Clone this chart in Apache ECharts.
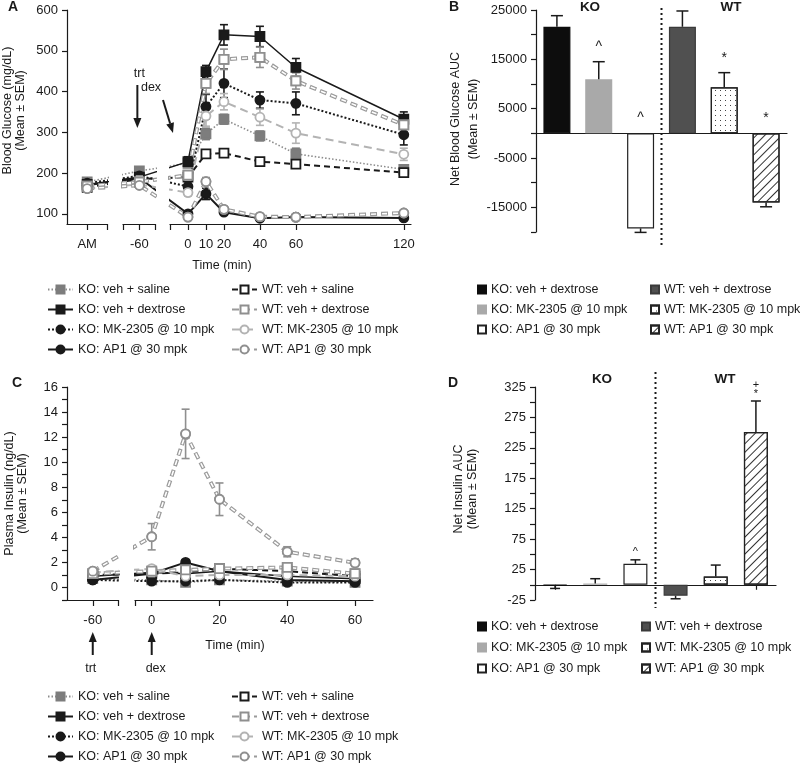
<!DOCTYPE html>
<html>
<head>
<meta charset="UTF-8">
<title>Blood glucose and insulin</title>
<script src="https://cdn.jsdelivr.net/npm/echarts@6/dist/echarts.min.js"></script>
<style>html,body{margin:0;padding:0;background:#fff}</style>
</head>
<body>
<div id="main" style="width:800px;height:768px;"></div>
<script>
// ---------------- data ----------------
var groups = ['KO: veh + saline', 'KO: veh + dextrose', 'KO: MK-2305 @ 10 mpk', 'KO: AP1 @ 30 mpk',
              'WT: veh + saline', 'WT: veh + dextrose', 'WT: MK-2305 @ 10 mpk', 'WT: AP1 @ 30 mpk'];

// A: blood glucose (mg/dL)
var timeA = ['AM', '-60', '0', '10', '20', '40', '60', '120'];
var gluKoSal = [178, 205, 224, 296, 332, 291, 247, 209];
var gluKoDex = [172, 190, 228, 449, 539, 535, 459, 332];
var gluKoMk  = [175, 193, 167, 363, 420, 379, 371, 294];
var gluKoAp1 = [170, 188, 100, 149, 104, 89, 92, 90];
var gluWtSal = [165, 185, 190, 247, 249, 228, 222, 201];
var gluWtDex = [168, 178, 195, 420, 479, 484, 426, 318];
var gluWtMk  = [162, 172, 152, 340, 375, 337, 298, 246];
var gluWtAp1 = [162, 170, 92, 179, 111, 93, 92, 102];
var gluKoSalSem = [6, 8, 8, 14, 12, 12, 14, 10];
var gluKoDexSem = [6, 8, 12, 15, 25, 25, 22, 18];
var gluKoMkSem  = [6, 8, 8, 30, 35, 20, 28, 25];
var gluKoAp1Sem = [5, 6, 6, 14, 6, 4, 4, 4];
var gluWtSalSem = [5, 6, 8, 10, 8, 8, 8, 6];
var gluWtDexSem = [5, 6, 8, 25, 25, 25, 20, 20];
var gluWtMkSem  = [5, 6, 8, 25, 20, 20, 25, 15];
var gluWtAp1Sem = [5, 6, 6, 10, 6, 4, 4, 4];
var gluTicks = [100, 200, 300, 400, 500, 600];

// C: plasma insulin (ng/dL)
var timeC = ['-60', '0', '10', '20', '40', '60'];
var insKoSal = [0.7, 0.6, 0.4, 0.6, 0.5, 0.4];
var insKoDex = [0.9, 1.2, 1.1, 1.3, 0.9, 0.7];
var insKoMk  = [0.6, 0.5, 0.5, 0.6, 0.4, 0.4];
var insKoAp1 = [0.6, 1.1, 2.0, 1.3, 0.6, 0.5];
var insWtSal = [1.0, 1.1, 1.2, 1.5, 1.3, 0.9];
var insWtDex = [1.1, 1.3, 1.4, 1.5, 1.6, 1.1];
var insWtMk  = [1.2, 1.5, 0.9, 1.0, 1.0, 0.9];
var insWtAp1 = [1.3, 4.05, 12.26, 7.04, 2.85, 1.97];
var insKoSalSem = [0.2, 0.2, 0.3, 0.2, 0.2, 0.2];
var insKoDexSem = [0.2, 0.2, 0.2, 0.2, 0.2, 0.2];
var insKoMkSem  = [0.2, 0.2, 0.2, 0.2, 0.2, 0.2];
var insKoAp1Sem = [0.2, 0.2, 0.2, 0.2, 0.2, 0.2];
var insWtSalSem = [0.2, 0.2, 0.2, 0.2, 0.2, 0.2];
var insWtDexSem = [0.2, 0.2, 0.2, 0.2, 0.3, 0.2];
var insWtMkSem  = [0.2, 0.2, 0.2, 0.2, 0.2, 0.2];
var insWtAp1Sem = [0.3, 1.05, 1.97, 1.3, 0.4, 0.3];

// B and D: net AUC bars
var barGroups = ['KO: veh + dextrose', 'KO: MK-2305 @ 10 mpk', 'KO: AP1 @ 30 mpk',
                 'WT: veh + dextrose', 'WT: MK-2305 @ 10 mpk', 'WT: AP1 @ 30 mpk'];
var aucGlu    = [21600, 10950, -19270, 21600, 9330, -14000];
var aucGluSem = [2250, 3570, 810, 3200, 2970, 890];
var aucGluSig = ['', '^', '^', '', '*', '*'];
var aucIns    = [-1, 2, 34.6, -18, 13.7, 251];
var aucInsSem = [5, 8, 6.4, 5, 18.7, 51];
var aucInsSig = ['', '', '^', '', '', '+\n*'];

// ---------------- layout ----------------
var FONT = 'Liberation Sans, Arial, sans-serif';
var INK = '#1a1a1a';

// broken time axes: virtual minute positions of each time point
var posA = {'AM': -56, '-60': -27};
var posC = {'-60': -17.5};
function xPos(labels, special) {
    return labels.map(function (l) { return l in special ? special[l] : +l; });
}
var xA = xPos(timeA, posA);
var xC = xPos(timeC, posC);

var grids = [
    {left: 67, top: 10, width: 40, height: 214},    // A: AM
    {left: 123, top: 10, width: 32, height: 214},   // A: -60
    {left: 170, top: 10, width: 241, height: 214},  // A: 0..120
    {left: 536, top: 10, width: 251, height: 222},  // B
    {left: 67, top: 387, width: 51, height: 213},   // C: -60
    {left: 135, top: 387, width: 238, height: 213}, // C: 0..60
    {left: 535, top: 387, width: 241, height: 213}  // D
];

var lineStyles = [
    {line: '#8c8c8c', dash: [1.5, 2], w: 1.6, sym: 'rect', fill: '#7d7d7d', border: '#7d7d7d'},
    {line: INK, dash: 'solid', w: 1.5, sym: 'rect', fill: INK, border: INK},
    {line: INK, dash: [2, 2], w: 2, sym: 'circle', fill: INK, border: INK},
    {line: INK, dash: 'solid', w: 2, sym: 'circle', fill: INK, border: INK},
    {line: INK, dash: [6, 4], w: 2, sym: 'rect', fill: '#fff', border: INK},
    {line: '#9a9a9a', dash: [7, 4], w: 4, sym: 'rect', fill: '#fff', border: '#8f8f8f', hollow: true},
    {line: '#b3b3b3', dash: [8, 5], w: 2, sym: 'circle', fill: '#fff', border: '#b3b3b3'},
    {line: '#9a9a9a', dash: [7, 4], w: 4, sym: 'circle', fill: '#fff', border: '#8f8f8f', hollow: true}
];

var barStyles = [
    {color: '#0d0d0d', borderColor: '#0d0d0d'},
    {color: '#a9a9a9', borderColor: '#a9a9a9'},
    {color: '#fff', borderColor: '#222'},
    {color: '#505050', borderColor: '#3a3a3a'},
    {color: '#fff', borderColor: '#222',
        decal: {symbol: 'rect', symbolSize: 1, dashArrayX: [1, 4], dashArrayY: [1, 4], color: '#444'}},
    {color: '#fff', borderColor: '#222',
        decal: {symbol: 'rect', symbolSize: 1, dashArrayX: [1, 0], dashArrayY: [1, 5], rotation: -Math.PI / 4, color: '#333'}}
];

// ---------------- axes ----------------
function timeAxis(gi, min, max, ticks, labels, names) {
    return {
        type: 'value', gridIndex: gi, min: min, max: max,
        axisLine: {onZero: false, lineStyle: {color: INK, width: 1.2}},
        axisTick: {customValues: ticks, length: 6, lineStyle: {color: INK, width: 1.2}},
        axisLabel: {customValues: labels, color: INK, fontSize: 13, fontFamily: FONT, margin: 14,
            formatter: function (v) {
                for (var k in names) { if (names[k] === v) return k; }
                return String(v);
            }},
        splitLine: {show: false}
    };
}
function valueAxis(gi, min, max, extra) {
    var ax = {
        type: 'value', gridIndex: gi, min: min, max: max,
        axisLine: {show: true, lineStyle: {color: INK, width: 1.2}},
        axisTick: {show: true, length: 5, lineStyle: {color: INK, width: 1.2}},
        axisLabel: {color: INK, fontSize: 13, fontFamily: FONT, margin: 9},
        splitLine: {show: false},
        nameLocation: 'middle', nameRotate: 90,
        nameTextStyle: {color: INK, fontSize: 12.5, fontFamily: FONT, align: 'center'}
    };
    for (var k in extra) {
        if (typeof extra[k] === 'object' && ax[k]) Object.assign(ax[k], extra[k]); else ax[k] = extra[k];
    }
    return ax;
}
function hiddenAxis(gi, min, max) {
    return {type: 'value', gridIndex: gi, min: min, max: max, show: false};
}
function barAxis(gi, ticks) {
    return {
        type: 'category', gridIndex: gi, data: barGroups,
        axisLine: {onZero: true, lineStyle: {color: INK, width: 1.2}},
        axisTick: {show: ticks, alignWithLabel: true, length: 5, lineStyle: {color: INK, width: 1.2}},
        axisLabel: {show: false}
    };
}

var xAxes = [
    timeAxis(0, -67.2, -45, [-56, -45], [-56], posA),
    timeAxis(1, -36.1, -18.3, [-36.1, -27, -18.3], [-27], posA),
    timeAxis(2, -10, 124, [-10, 0, 10, 20, 40, 60, 120], [0, 10, 20, 40, 60, 120], posA),
    barAxis(3, false),
    timeAxis(4, -25.1, -10.05, [-17.5, -10.05], [-17.5], posC),
    timeAxis(5, -4.93, 65.3, [-4.93, 0, 20, 40, 60], [0, 20, 40, 60], posC),
    barAxis(6, true)
];

var yAxes = [
    valueAxis(0, 75, 600, {
        axisTick: {customValues: gluTicks}, axisLabel: {customValues: gluTicks},
        name: 'Blood Glucose (mg/dL)\n(Mean \u00b1 SEM)', nameGap: 40,
        nameTextStyle: {lineHeight: 13, padding: [0, 0, 0, 13]}
    }),
    hiddenAxis(1, 75, 600),
    hiddenAxis(2, 75, 600),
    valueAxis(3, -20000, 25000, {
        interval: 5000,
        axisLabel: {formatter: function (v) { return (v / 5000) % 2 !== 0 ? String(v) : ''; }},
        name: 'Net Blood Glucose AUC\n(Mean \u00b1 SEM)', nameGap: 51,
        nameTextStyle: {lineHeight: 18, padding: [0, 0, 0, 4]}
    }),
    valueAxis(4, -1, 16, {
        interval: 1,
        axisLabel: {formatter: function (v) { return v >= 0 && v % 2 === 0 ? String(v) : ''; }},
        name: 'Plasma Insulin (ng/dL)\n(Mean \u00b1 SEM)', nameGap: 38,
        nameTextStyle: {lineHeight: 13}
    }),
    hiddenAxis(5, -1, 16),
    valueAxis(6, -25, 325, {
        interval: 25,
        axisLabel: {formatter: function (v) { return (v + 25) % 50 === 0 ? String(v) : ''; }},
        name: 'Net Insulin AUC\n(Mean \u00b1 SEM)', nameGap: 55,
        nameTextStyle: {lineHeight: 14, padding: [0, 0, 0, 9]}
    })
];

// ---------------- series ----------------
var series = [];

function errRender(color, cap) {
    return function (params, api) {
        var x = api.value(0), v = api.value(1), e = api.value(2);
        var a = api.coord([x, v + e]), b = api.coord([x, v - e]);
        var st = {stroke: color, lineWidth: 1.6};
        return {type: 'group', children: [
            {type: 'line', shape: {x1: a[0], y1: a[1], x2: b[0], y2: b[1]}, style: st},
            {type: 'line', shape: {x1: a[0] - cap, y1: a[1], x2: a[0] + cap, y2: a[1]}, style: st},
            {type: 'line', shape: {x1: b[0] - cap, y1: b[1], x2: b[0] + cap, y2: b[1]}, style: st}
        ]};
    };
}

function addLines(means, sems, xs, gridList, errGrid, symSize) {
    groups.forEach(function (name, g) {
        var st = lineStyles[g];
        var pts = means[g].map(function (v, i) { return [xs[i], v]; });
        var marker = {color: st.fill, borderColor: st.border, borderWidth: 1.8};
        series.push({
            type: 'custom', xAxisIndex: errGrid, yAxisIndex: errGrid, silent: true, z: 2, clip: true,
            encode: {x: 0, y: 1},
            data: means[g].map(function (v, i) { return [xs[i], v, sems[g][i]]; }),
            renderItem: errRender(st.border, 4)
        });
        gridList.forEach(function (gi) {
            series.push({
                type: 'line', name: name, xAxisIndex: gi, yAxisIndex: gi, data: pts,
                clip: true, silent: true, z: 3,
                symbol: st.sym, symbolSize: symSize,
                lineStyle: {color: st.line, type: st.dash, width: st.w},
                itemStyle: marker,
                emphasis: {disabled: true}
            });
            if (st.hollow) {
                // white core inside the grey dashes, then markers redrawn on top
                series.push({
                    type: 'line', xAxisIndex: gi, yAxisIndex: gi, data: pts,
                    clip: true, silent: true, z: 3, symbol: 'none',
                    lineStyle: {color: '#fff', type: [5, 6], dashOffset: -1, width: 1.6},
                    emphasis: {disabled: true}
                });
                series.push({
                    type: 'line', xAxisIndex: gi, yAxisIndex: gi, data: pts,
                    clip: true, silent: true, z: 4,
                    symbol: st.sym, symbolSize: symSize,
                    lineStyle: {opacity: 0, width: 0},
                    itemStyle: marker,
                    emphasis: {disabled: true}
                });
            }
        });
    });
}

function addBars(vals, sems, sigs, gi, barW, cap, sigFont, sigGap, sigLine) {
    barGroups.forEach(function (name, i) {
        series.push({
            type: 'bar', name: 'bar|' + name, xAxisIndex: gi, yAxisIndex: gi,
            data: vals.map(function (v, j) { return j === i ? v : '-'; }),
            barWidth: barW, barGap: '-100%', silent: true, z: 2,
            itemStyle: Object.assign({borderWidth: 1.2}, barStyles[i]),
            emphasis: {disabled: true}
        });
    });
    series.push({
        type: 'custom', xAxisIndex: gi, yAxisIndex: gi, silent: true, z: 3,
        encode: {x: 0, y: 1},
        data: vals.map(function (v, j) { return [j, v, sems[j]]; }),
        renderItem: function (params, api) {
            var i = api.value(0), v = api.value(1), e = api.value(2);
            var dir = v >= 0 ? 1 : -1;
            var a = api.coord([i, v]), b = api.coord([i, v + dir * e]);
            var st = {stroke: INK, lineWidth: 1.5};
            var kids = [
                {type: 'line', shape: {x1: a[0], y1: a[1], x2: b[0], y2: b[1]}, style: st},
                {type: 'line', shape: {x1: b[0] - cap, y1: b[1], x2: b[0] + cap, y2: b[1]}, style: st}
            ];
            var s = sigs[params.dataIndex];
            if (s) {
                var base = v >= 0 ? b[1] : api.coord([i, 0])[1];
                kids.push({type: 'text', x: b[0], y: base - sigGap, style: {
                    text: s, fill: INK, fontSize: sigFont, fontFamily: FONT,
                    align: 'center', verticalAlign: 'bottom', lineHeight: sigLine
                }});
            }
            return {type: 'group', children: kids};
        }
    });
}

addLines([gluKoSal, gluKoDex, gluKoMk, gluKoAp1, gluWtSal, gluWtDex, gluWtMk, gluWtAp1],
         [gluKoSalSem, gluKoDexSem, gluKoMkSem, gluKoAp1Sem, gluWtSalSem, gluWtDexSem, gluWtMkSem, gluWtAp1Sem],
         xA, [0, 1, 2], 2, 9);
addLines([insKoSal, insKoDex, insKoMk, insKoAp1, insWtSal, insWtDex, insWtMk, insWtAp1],
         [insKoSalSem, insKoDexSem, insKoMkSem, insKoAp1Sem, insWtSalSem, insWtDexSem, insWtMkSem, insWtAp1Sem],
         xC, [4, 5], 5, 9);
addBars(aucGlu, aucGluSem, aucGluSig, 3, 27, 6, 14, 8, 14);
addBars(aucIns, aucInsSem, aucInsSig, 6, 24, 5, 11, 3, 9);

// ---------------- legends ----------------
var legendText = {fontSize: 12.5, color: INK, fontFamily: FONT};
function lineLegend(names, left, top) {
    return {data: names, left: left, top: top, orient: 'vertical', padding: 0, itemGap: 7,
        itemWidth: 25, itemHeight: 10, selectedMode: false, textStyle: legendText};
}
function barLegend(names, left, top, gap) {
    return {data: names.map(function (n) { return 'bar|' + n; }), left: left, top: top,
        orient: 'vertical', padding: 0, itemGap: gap, itemWidth: 8, itemHeight: 8, icon: 'rect',
        selectedMode: false, textStyle: legendText,
        formatter: function (n) { return n.slice(4); }};
}
var legends = [
    lineLegend(groups.slice(0, 4), 47, 283),
    lineLegend(groups.slice(4), 231, 283),
    barLegend(barGroups.slice(0, 3), 477, 283, 7),
    barLegend(barGroups.slice(3), 650, 283, 7),
    lineLegend(groups.slice(0, 4), 47, 690),
    lineLegend(groups.slice(4), 231, 690),
    barLegend(barGroups.slice(0, 3), 477, 620, 8),
    barLegend(barGroups.slice(3), 641, 620, 8)
];

// ---------------- annotations ----------------
function arrow(x1, y1, x2, y2) {
    var ang = Math.atan2(y2 - y1, x2 - x1), h = 10, w = 4;
    var bx = x2 - h * Math.cos(ang), by = y2 - h * Math.sin(ang);
    return [
        {type: 'line', shape: {x1: x1, y1: y1, x2: bx, y2: by}, style: {stroke: INK, lineWidth: 2}},
        {type: 'polygon', shape: {points: [[x2, y2],
            [bx - w * Math.sin(ang), by + w * Math.cos(ang)],
            [bx + w * Math.sin(ang), by - w * Math.cos(ang)]]}, style: {fill: INK}}
    ];
}
function label(text, x, y) {
    return {type: 'text', x: x, y: y, style: {text: text, fill: INK, fontSize: 12.5, fontFamily: FONT,
        align: 'center', verticalAlign: 'middle'}};
}
function pxOf(gi, t) {
    var g = grids[gi], ax = xAxes[gi];
    return g.left + (t - ax.min) / (ax.max - ax.min) * g.width;
}
function divider(gi, y1, y2) {
    var g = grids[gi], x = g.left + g.width / 2;
    return {type: 'line', shape: {x1: x, y1: y1, x2: x, y2: y2},
        style: {stroke: INK, lineWidth: 2, lineDash: [2, 3]}};
}

var trtA = pxOf(1, posA['-60']);
var trtC = pxOf(4, posC['-60']), dexC = pxOf(5, 0);
var graphics = [].concat(
    arrow(trtA - 2, 85, trtA - 2, 128),
    arrow(163, 100, 173, 133),
    arrow(trtC, 655, trtC, 632),
    arrow(dexC, 655, dexC, 632),
    [
        label('trt', trtA, 74), label('dex', 151, 88),
        label('trt', trtC - 2, 669), label('dex', dexC + 4, 669),
        label('Time (min)', 222, 266), label('Time (min)', 235, 646),
        divider(3, 8, 247), divider(6, 372, 608)
    ]
);

var titleStyle = {fontSize: 14, fontWeight: 'bold', color: INK, fontFamily: FONT};
var headStyle = {fontSize: 13.5, fontWeight: 'bold', color: INK, fontFamily: FONT};
var titles = [
    {text: 'A', left: 8, top: 0, padding: 0, textStyle: titleStyle},
    {text: 'B', left: 449, top: 0, padding: 0, textStyle: titleStyle},
    {text: 'C', left: 12, top: 376, padding: 0, textStyle: titleStyle},
    {text: 'D', left: 448, top: 376, padding: 0, textStyle: titleStyle},
    {text: 'KO', left: 590, top: 0, padding: 0, textAlign: 'center', textStyle: headStyle},
    {text: 'WT', left: 731, top: 0, padding: 0, textAlign: 'center', textStyle: headStyle},
    {text: 'KO', left: 602, top: 372, padding: 0, textAlign: 'center', textStyle: headStyle},
    {text: 'WT', left: 725, top: 372, padding: 0, textAlign: 'center', textStyle: headStyle}
];

var chart = echarts.init(document.getElementById('main'));
chart.setOption({
    backgroundColor: '#fff',
    animation: false,
    textStyle: {fontFamily: FONT},
    title: titles,
    grid: grids.map(function (g) { return Object.assign({containLabel: false, outerBoundsMode: 'none'}, g); }),
    xAxis: xAxes,
    yAxis: yAxes,
    legend: legends,
    series: series,
    graphic: graphics
});
</script>
</body>
</html>
